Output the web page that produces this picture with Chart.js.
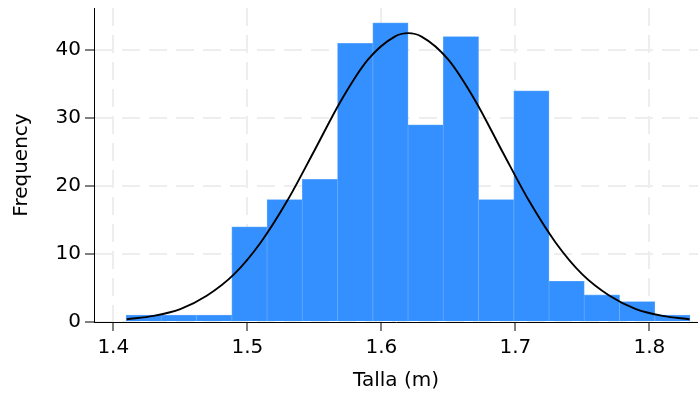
<!DOCTYPE html>
<html>
<head>
<meta charset="utf-8">
<script src="https://cdn.jsdelivr.net/npm/chart.js@4"></script>
<style>
  body { margin: 0; background: #fff; }
  canvas { display: block; }
</style>
</head>
<body>
<canvas id="grafico" width="698" height="398"></canvas>
<script>
// centros de los intervalos (ancho ~0.0263) y frecuencias
const centros = [1.4227, 1.4490, 1.4753, 1.5016, 1.5279, 1.5542, 1.5805, 1.6068,
                 1.6331, 1.6594, 1.6857, 1.7120, 1.7383, 1.7646, 1.7909, 1.8172];
const frecuencias = [1, 1, 1, 14, 18, 21, 41, 44, 29, 42, 18, 34, 6, 4, 3, 1];

// curva normal
const curvaX = [1.41, 1.43, 1.45, 1.47, 1.49, 1.51, 1.53, 1.55, 1.57, 1.59, 1.61, 1.62,
                1.63, 1.65, 1.67, 1.69, 1.71, 1.73, 1.75, 1.77, 1.79, 1.81, 1.83];
const curvaY = [0.4, 0.9, 1.9, 3.9, 7.0, 11.7, 17.9, 25.2, 32.6, 38.6, 42.0, 42.5,
                42.0, 38.6, 32.6, 25.2, 17.9, 11.7, 7.0, 3.9, 1.9, 0.9, 0.4];

const ticksX = [1.4, 1.5, 1.6, 1.7, 1.8];
const ticksY = [0, 10, 20, 30, 40];

const fuente = { family: "'DejaVu Sans', sans-serif", size: 20 };

const grafico = new Chart(document.getElementById('grafico'), {
  type: 'bar',
  data: {
    datasets: [{
      type: 'line',
      data: curvaX.map((x, i) => ({ x: x, y: curvaY[i] })),
      borderColor: '#000',
      borderWidth: 1.9,
      pointRadius: 0,
      cubicInterpolationMode: 'monotone',
      order: 0
    }, {
      data: centros.map((x, i) => ({ x: x, y: frecuencias[i] })),
      backgroundColor: '#3590ff',
      borderColor: '#64aaff',
      borderWidth: 0.7,
      barPercentage: 1,
      categoryPercentage: 1,
      order: 1
    }]
  },
  options: {
    responsive: false,
    animation: false,
    layout: { padding: { top: 8, right: 0 } },
    plugins: { legend: { display: false }, tooltip: { enabled: false } },
    scales: {
      x: {
        type: 'linear',
        offset: false,
        min: 1.3856,
        max: 1.8363,
        afterFit: s => { s.height = 76; s.paddingLeft = 0; s.paddingRight = 0; },
        afterBuildTicks: s => { s.ticks = ticksX.map(v => ({ value: v })); },
        ticks: { color: '#000', font: fuente, padding: 5, callback: v => v.toFixed(1) },
        grid: { offset: false, color: '#eeeeee', lineWidth: 2, tickLength: 9, tickColor: '#000', tickWidth: 1 },
        border: { display: true, color: '#000', width: 1, dash: [18, 9] },
        title: { display: true, text: 'Talla (m)', color: '#000', font: fuente, padding: { top: 0, bottom: 5 } }
      },
      y: {
        min: 0,
        max: 46.2,
        afterFit: s => { s.width = 94; s.paddingTop = 0; s.paddingBottom = 0; },
        afterBuildTicks: s => { s.ticks = ticksY.map(v => ({ value: v })); },
        ticks: { color: '#000', font: fuente, padding: 4 },
        grid: { color: '#eeeeee', lineWidth: 2, tickLength: 9, tickColor: '#000', tickWidth: 1 },
        border: { display: true, color: '#000', width: 1, dash: [18, 9] },
        title: { display: true, text: 'Frequency', color: '#000', font: fuente, padding: { top: 10, bottom: 0 } }
      }
    }
  }
});
</script>
</body>
</html>
